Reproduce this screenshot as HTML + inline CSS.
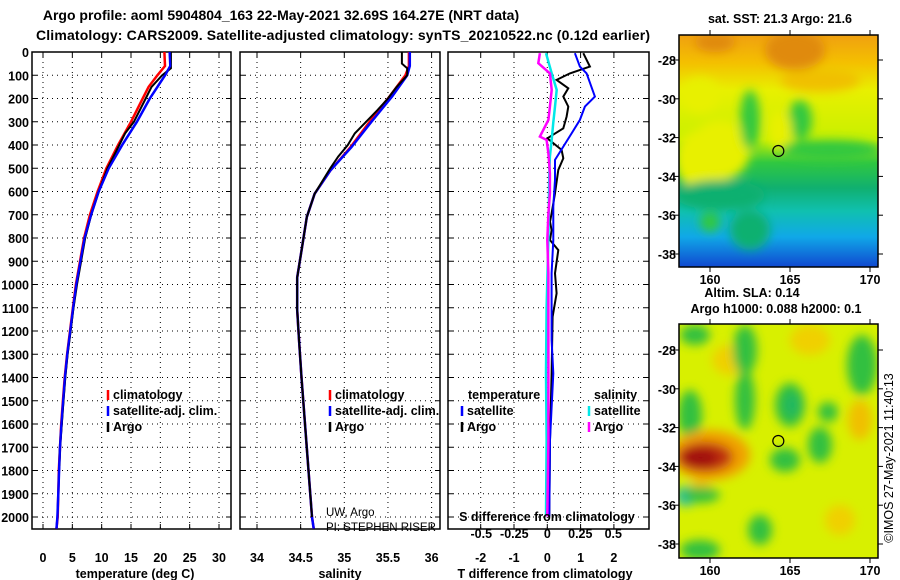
<!DOCTYPE html>
<html><head><meta charset="utf-8"><style>
body{margin:0;background:#fff}
svg{display:block;font-family:"Liberation Sans",sans-serif;font-weight:bold}
</style></head><body>
<svg id="c" width="900" height="580" viewBox="0 0 900 580">
<defs>
<clipPath id="cp1"><rect x="32" y="52" width="199" height="477"/></clipPath>
<clipPath id="cp2"><rect x="240" y="52" width="200" height="477"/></clipPath>
<clipPath id="cp3"><rect x="448" y="52" width="201" height="477"/></clipPath>
<clipPath id="cm1"><rect x="679" y="35" width="199" height="232"/></clipPath>
<clipPath id="cm2"><rect x="679" y="324" width="199" height="234"/></clipPath>
<linearGradient id="sst" x1="0" y1="0" x2="0" y2="1">
<stop offset="0" stop-color="#f0a010"/><stop offset="0.12" stop-color="#f4c000"/><stop offset="0.24" stop-color="#e8f000"/>
<stop offset="0.45" stop-color="#c8f000"/><stop offset="0.55" stop-color="#30c840"/><stop offset="0.66" stop-color="#10b070"/>
<stop offset="0.76" stop-color="#10c0b0"/><stop offset="0.87" stop-color="#10a8e8"/><stop offset="1" stop-color="#1048d0"/>
</linearGradient>
<filter id="bl"><feGaussianBlur stdDeviation="5"/></filter>
</defs>
<g id="root"></g>
</svg>
<script>
// Temperature panel data
const climDepth=[0,60,100,150,200,300,400,500,600,700,800,900,1000,1100,1200,1300,1400,1500,1600,1700,1800,1900,2000,2050];
const climT=[20.7,20.8,19.5,18,17,15,12.8,10.8,9.3,8.0,7.0,6.3,5.6,5.1,4.6,4.1,3.7,3.4,3.1,2.9,2.7,2.6,2.5,2.3];
const satT=[21.6,21.7,20.8,19.5,18.2,16,13.5,11.2,9.5,8.2,7.1,6.4,5.7,5.15,4.65,4.15,3.75,3.45,3.15,2.9,2.75,2.6,2.45,2.3];
const argoTDepth=[0,70,100,150,200,300,350,400,500,600,700,800,900,1000,1100,1200,1300,1400,1500,1600,1700,1780];
const argoT=[21.8,21.8,20.3,18.5,17.5,15.5,14,13.0,11.0,9.5,8.2,7.2,6.5,5.8,5.2,4.7,4.2,3.8,3.5,3.2,2.9,2.8];
// Salinity panel data
const salDepth=[0,60,100,190,300,410,510,610,710,830,970,1110,1230,1400,1600,1800,2000,2050];
const climS=[35.74,35.74,35.7,35.52,35.29,35.07,34.84,34.66,34.57,34.52,34.46,34.46,34.48,34.51,34.55,34.59,34.63,34.65];
const satS=[35.75,35.75,35.72,35.55,35.31,35.08,34.84,34.66,34.57,34.52,34.46,34.46,34.48,34.51,34.55,34.59,34.63,34.65];
const argoSDepth=[0,50,70,100,150,200,250,300,350,400,450,500,610,710,830,970,1110,1230,1400,1600,1800,2000];
const argoS=[35.66,35.66,35.72,35.72,35.6,35.5,35.38,35.25,35.12,35.04,34.93,34.84,34.66,34.57,34.52,34.46,34.46,34.48,34.51,34.55,34.59,34.63];
// Difference panel data
const dArgoTDepth=[5,63,92,120,156,192,235,278,328,371,421,457,507,608,694,730,766,809,852,952,1038,1139,1383,1669,1998];
const dArgoT=[1.08,1.28,0.68,0.28,0.63,0.48,0.63,0.58,0.48,0.0,0.43,0.48,0.33,0.23,0.13,0.08,0.13,0.08,0.33,0.23,0.28,0.16,0.13,0.08,0.06];
const dSatTDepth=[5,63,92,192,235,292,350,407,464,550,665,809,952,1239,1383,1669,1998];
const dSatT=[0.83,0.98,1.18,1.43,1.13,0.98,0.73,0.48,0.23,0.23,0.18,0.18,0.13,0.13,0.18,0.08,0.06];
const dArgoSDepth=[5,48,92,163,235,292,335,364,378,436,522,608,694,809,952,1239,1669,1998];
const dArgoS=[-0.056,-0.068,0.02,0.033,0.02,0.008,-0.03,-0.056,-0.005,0.008,0.02,0.02,0.008,0,0.008,0.008,0.008,0];
const dSatSDepth=[5,92,163,235,307,378,450,522,809,1095,1383,1669,1998];
const dSatS=[-0.01,0.033,0.071,0.058,0.045,0.033,0.02,0.015,0.008,-0.005,-0.01,-0.005,-0.01];
// Tick labels
const depthTicks=[0,100,200,300,400,500,600,700,800,900,1000,1100,1200,1300,1400,1500,1600,1700,1800,1900,2000];
const tTicks=[0,5,10,15,20,25,30];
const sTicks=[34,34.5,35,35.5,36];
const sTickLabels=["34","34.5","35","35.5","36"];
const dTTicks=[-2,-1,0,1,2];
const dSTicks=[-0.5,-0.25,0,0.25,0.5];
const dSTickLabels=["-0.5","-0.25","0","0.25","0.5"];
const latTicks=[-28,-30,-32,-34,-36,-38];
const lonTicks=[160,165,170];

const NS="http://www.w3.org/2000/svg";
const root=document.getElementById('root');
function mk(tag,attrs,parent){const e=document.createElementNS(NS,tag);for(const k in attrs)e.setAttribute(k,attrs[k]);(parent||root).appendChild(e);return e;}
function txt(x,y,s,size,anchor,parent,weight){const t=mk('text',{x:x,y:y,'font-size':size,'text-anchor':anchor||'start'},parent);if(weight)t.setAttribute('font-weight',weight);t.textContent=s;return t;}

const yD=d=>52+d*0.2325;
const xT=v=>43+v*5.867;
const xS=v=>257+(v-34)*87.3;
const xdT=v=>547.3+v*33.3;
const xdS=v=>547.3+v*132;
const latY1=v=>60+(-28-v)*19.4;
const latY2=v=>350+(-28-v)*19.4;
const lonX=v=>710+(v-160)*16;

function panel(x0,w,name,xticks,xfn,xlabels){
  const g=mk('g',{});
  
  
  depthTicks.forEach(d=>{mk('line',{x1:x0,x2:x0+w,y1:yD(d),y2:yD(d),stroke:'#000','stroke-width':1,'stroke-dasharray':'1,4'},g);
    mk('line',{x1:x0,x2:x0+5,y1:yD(d),y2:yD(d),stroke:'#000'},g);mk('line',{x1:x0+w-5,x2:x0+w,y1:yD(d),y2:yD(d),stroke:'#000'},g);});
  xticks.forEach((v,i)=>{const x=xfn(v);mk('line',{x1:x,x2:x,y1:52,y2:529,stroke:'#000','stroke-dasharray':'1,4'},g);
    mk('line',{x1:x,x2:x,y1:529,y2:524,stroke:'#000'},g);mk('line',{x1:x,x2:x,y1:52,y2:57,stroke:'#000'},g);
    if(xlabels){const t=txt(x,562,xlabels[i],12.5,'middle',g);}});
  mk('rect',{x:x0,y:52,width:w,height:477,fill:'none',stroke:'#000','stroke-width':1.5},g);
  return g;
}
function line(ds,vs,xfn,color,clip,name,sw){
  const p=mk('polyline',{points:ds.map((d,i)=>xfn(vs[i]).toFixed(1)+','+yD(d).toFixed(1)).join(' '),fill:'none',stroke:color,'stroke-width':sw||2.5,'clip-path':'url(#'+clip+')'});
  
  
}
// titles
let t=txt(281,20,'Argo profile: aoml 5904804_163 22-May-2021 32.69S 164.27E (NRT data)',14,'middle');

t=txt(343,40,'Climatology: CARS2009. Satellite-adjusted climatology: synTS_20210522.nc (0.12d earlier)',14,'middle');
t.setAttribute('textLength','614');


// Panel 1
panel(32,199,'temperature-panel',tTicks,xT,tTicks.map(String));
depthTicks.forEach(d=>{const tt=txt(29,yD(d)+5,String(d),12.5,'end');});
line(climDepth,climT,xT,'#f00','cp1','temp-climatology-line');
line(climDepth,satT,xT,'#00f','cp1','temp-satellite-line');
line(argoTDepth,argoT,xT,'#000','cp1','temp-argo-line',2);
line(climDepth,satT,xT,'#00f','cp1','temp-satellite-line-top',2);
t=txt(135,578,'temperature (deg C)',12.5,'middle');

// Panel 2
panel(240,200,'salinity-panel',sTicks,xS,sTickLabels);
line(salDepth,climS,xS,'#f00','cp2','sal-climatology-line');
line(salDepth,satS,xS,'#00f','cp2','sal-satellite-line');
line(argoSDepth,argoS,xS,'#000','cp2','sal-argo-line',2);
t=txt(340,578,'salinity',12.5,'middle');
t=txt(326,516,'UW, Argo',11.5,'start',null,'normal');
t=txt(326,531,'PI: STEPHEN RISER',11.5,'start',null,'normal');

// Panel 3
panel(448,201,'difference-panel',dTTicks,xdT,dTTicks.map(String));
line(dArgoTDepth,dArgoT,xdT,'#000','cp3','tdiff-argo-line',2);
line(dSatTDepth,dSatT,xdT,'#00f','cp3','tdiff-satellite-line',2);
line(dSatSDepth,dSatS,xdS,'#00e8e8','cp3','sdiff-satellite-line',2.5);
line(dArgoSDepth,dArgoS,xdS,'#f0f','cp3','sdiff-argo-line',2.5);
dSTicks.forEach((v,i)=>{const tt=txt(xdS(v),538,dSTickLabels[i],12.5,'middle');});
t=txt(547,521,'S difference from climatology',12.5,'middle');
t=txt(545,578,'T difference from climatology',12.5,'middle');

// legends
function leg(x,y,color,label,name){const g=mk('g',{});
  mk('line',{x1:x,x2:x,y1:y-9,y2:y+1,stroke:color,'stroke-width':2.5},g);txt(x+5,y,label,12.5,'start',g);}
leg(108,399,'#f00','climatology','legend-entry-climatology');
leg(108,415,'#00f','satellite-adj. clim.','legend-entry-satellite');
leg(108,431,'#000','Argo','legend-entry-argo');
leg(330,399,'#f00','climatology','legend-entry-climatology-sal');
leg(330,415,'#00f','satellite-adj. clim.','legend-entry-satellite-sal');
leg(330,431,'#000','Argo','legend-entry-argo-sal');
t=txt(468,399,'temperature',12.5,'start');
leg(462,415,'#00f','satellite','legend-entry-tdiff-satellite');
leg(462,431,'#000','Argo','legend-entry-tdiff-argo');
t=txt(594,399,'salinity',12.5,'start');
leg(589,415,'#00e8e8','satellite','legend-entry-sdiff-satellite');
leg(589,431,'#f0f','Argo','legend-entry-sdiff-argo');

// Map 1 (SST)
let m=mk('g',{'clip-path':'url(#cm1)'});
mk('rect',{x:679,y:35,width:199,height:232,fill:'url(#sst)'},m);
let bl=mk('g',{filter:'url(#bl)'},m);
[['#e08a10',715,42,20,10],['#e08a10',795,50,30,20],['#f0c000',820,80,40,12],['#e8f000',700,160,25,30],['#e8f000',720,150,30,30],['#30c840',750,120,10,30],['#30c840',800,120,12,20],['#e8f000',780,130,12,20],['#30c840',830,150,50,10],['#e8f000',700,95,20,18],['#10b070',720,195,45,15],['#30c840',710,222,10,10],['#10b070',750,230,20,20]].forEach(a=>mk('ellipse',{fill:a[0],cx:a[1],cy:a[2],rx:a[3],ry:a[4]},bl));
// Map 2 (SLA)
m=mk('g',{'clip-path':'url(#cm2)'});
mk('rect',{x:679,y:324,width:199,height:234,fill:'#d8f000'},m);
bl=mk('g',{filter:'url(#bl)'},m);
[['#f0d000',810,340,20,15],['#f0d000',730,360,18,15],['#30c040',695,335,15,10],['#30c040',745,350,12,25],['#30c040',745,400,10,30],['#30c040',790,405,15,22],['#20b860',792,405,8,12],['#30c040',828,412,10,10],['#30c040',820,445,12,18],['#30c040',785,460,15,12],['#30c040',760,530,12,15],['#30c040',862,365,15,30],['#30c040',690,415,12,25],['#30c040',700,550,20,10],['#f0c000',860,420,12,20],['#f0c000',700,490,12,10],['#f0a000',710,455,40,25],['#c03010',705,457,28,15],['#a01010',700,458,18,9],['#20c0c0',686,496,10,10],['#30c040',700,495,20,8],['#f0d000',840,520,15,15]].forEach(a=>mk('ellipse',{fill:a[0],cx:a[1],cy:a[2],rx:a[3],ry:a[4]},bl));

function mapAxes(y0,h,latfn,name){
  const g=mk('g',{});
  mk('rect',{x:679,y:y0,width:199,height:h,fill:'none',stroke:'#000','stroke-width':1.5},g);
  latTicks.forEach(v=>{const y=latfn(v);mk('line',{x1:674,x2:679,y1:y,y2:y,stroke:'#000'},g);mk('line',{x1:878,x2:883,y1:y,y2:y,stroke:'#000'},g);
    const tt=txt(676,y+5,String(v),12.5,'end',g);});
  lonTicks.forEach(v=>{const x=lonX(v);mk('line',{x1:x,x2:x,y1:y0-5,y2:y0,stroke:'#000'},g);mk('line',{x1:x,x2:x,y1:y0+h,y2:y0+h+5,stroke:'#000'},g);
    const tt=txt(x,y0+h+17,String(v),12.5,'middle',g);});
}
mapAxes(35,232,latY1,'sst-map-axes');
mapAxes(324,234,latY2,'sla-map-axes');
mk('circle',{cx:lonX(164.27),cy:latY1(-32.69),r:5.5,fill:'none',stroke:'#000','stroke-width':1.2});
mk('circle',{cx:lonX(164.27),cy:latY2(-32.69),r:5.5,fill:'none',stroke:'#000','stroke-width':1.2});
t=txt(780,23,'sat. SST: 21.3 Argo: 21.6',12.5,'middle');
t=txt(752,297,'Altim. SLA: 0.14',12.5,'middle');
t=txt(776,313,'Argo h1000: 0.088 h2000: 0.1',12.5,'middle');
t=txt(0,0,'©IMOS 27-May-2021 11:40:13',12.5,'middle',null,'normal');t.setAttribute('transform','translate(893,458) rotate(-90)');

</script>
</body></html>
